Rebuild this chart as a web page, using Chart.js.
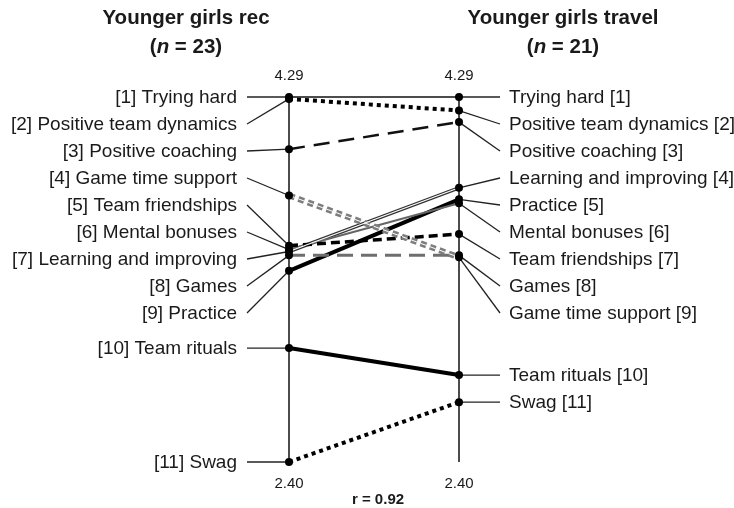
<!DOCTYPE html>
<html>
<head>
<meta charset="utf-8">
<script src="https://cdn.jsdelivr.net/npm/chart.js@4.4.0/dist/chart.umd.min.js"></script>
<style>
  html, body { margin: 0; padding: 0; background: #fff; }
  canvas { display: block; }
</style>
</head>
<body>
<canvas id="grafico" width="734" height="508"></canvas>
<script>
// Itens, na ordem do grupo rec
const itens = ['Trying hard', 'Positive team dynamics', 'Positive coaching', 'Game time support',
  'Team friendships', 'Mental bonuses', 'Learning and improving', 'Games', 'Practice',
  'Team rituals', 'Swag'];
const mediasRec = [4.29, 4.28, 4.02, 3.78, 3.52, 3.50, 3.49, 3.47, 3.39, 2.99, 2.40];
const mediasTravel = [4.29, 4.22, 4.16, 3.46, 3.58, 3.74, 3.82, 3.47, 3.76, 2.85, 2.71];
const grupos = ['Younger girls rec', 'Younger girls travel'];
const tamanhos = [23, 21];
const limitesEixo = [2.40, 4.29];
const correlacao = 0.92;

// Estilo de cada linha
const estilos = {
  'Trying hard': { cor: '#111', largura: 1.5 },
  'Positive team dynamics': { cor: '#000', largura: 4, traco: [4, 4] },
  'Positive coaching': { cor: '#111', largura: 2.5, traco: [16, 9] },
  'Game time support': { cor: '#7d7d7d', largura: 6, traco: [6, 4], interno: 1 },
  'Team friendships': { cor: '#000', largura: 3.5, traco: [9, 5] },
  'Mental bonuses': { cor: '#666', largura: 2 },
  'Learning and improving': { cor: '#333', largura: 3.5, interno: 1.2 },
  'Games': { cor: '#6e6e6e', largura: 3, traco: [16, 8] },
  'Practice': { cor: '#000', largura: 4 },
  'Team rituals': { cor: '#000', largura: 4 },
  'Swag': { cor: '#000', largura: 4, traco: [4, 4] }
};

const FONTE = '"Liberation Sans", Arial, sans-serif';
const COR_TEXTO = '#1a1a1a';

const datasets = [];

// Eixos verticais
[0, 1].forEach(x => {
  datasets.push({
    data: [{ x: x, y: limitesEixo[0] }, { x: x, y: limitesEixo[1] }],
    borderColor: '#111', borderWidth: 1.5, pointRadius: 0, clip: false, order: 5
  });
});

// Linhas dos itens
itens.forEach((item, i) => {
  const e = estilos[item];
  const dados = [{ x: 0, y: mediasRec[i] }, { x: 1, y: mediasTravel[i] }];
  datasets.push({
    data: dados, borderColor: e.cor, borderWidth: e.largura, borderDash: e.traco || [],
    pointRadius: 0, clip: false, order: 3
  });
  if (e.interno) {
    datasets.push({
      data: dados, borderColor: '#fff', borderWidth: e.interno, borderDash: e.traco || [],
      pointRadius: 0, clip: false, order: 2
    });
  }
});

// Pontos
datasets.push({
  data: itens.flatMap((_, i) => [{ x: 0, y: mediasRec[i] }, { x: 1, y: mediasTravel[i] }]),
  showLine: false, pointRadius: 4, pointBackgroundColor: '#000', pointBorderWidth: 0,
  clip: false, order: 1
});

function ordenar(medias) {
  return medias.map((v, i) => i).sort((a, b) => medias[b] - medias[a]);
}

// Texto com partes em estilos diferentes, centrado em x
function textoMisto(ctx, partes, cx, cy) {
  let total = 0;
  partes.forEach(p => { ctx.font = p.fonte; total += ctx.measureText(p.t).width; });
  let x = cx - total / 2;
  ctx.textAlign = 'left';
  partes.forEach(p => {
    ctx.font = p.fonte;
    ctx.fillText(p.t, x, cy);
    x += ctx.measureText(p.t).width;
  });
}

const rotulos = {
  id: 'rotulos',
  beforeDatasetsDraw(chart) {
    const { ctx, chartArea, scales: { x, y } } = chart;
    const passo = 27;
    const xEsq = x.getPixelForValue(0);
    const xDir = x.getPixelForValue(1);
    ctx.save();
    ctx.font = '19px ' + FONTE;
    ctx.textBaseline = 'middle';
    ctx.strokeStyle = '#222';
    ctx.lineWidth = 1.3;
    ctx.fillStyle = COR_TEXTO;

    ordenar(mediasRec).forEach((idx, pos) => {
      const py = y.getPixelForValue(mediasRec[idx]);
      const ly = pos < 9 ? chartArea.top + pos * passo : py;
      ctx.beginPath();
      ctx.moveTo(xEsq - 42, ly);
      ctx.lineTo(xEsq, py);
      ctx.stroke();
      ctx.textAlign = 'right';
      ctx.fillText('[' + (pos + 1) + '] ' + itens[idx], xEsq - 52, ly + 1);
    });

    ordenar(mediasTravel).forEach((idx, pos) => {
      const py = y.getPixelForValue(mediasTravel[idx]);
      const ly = pos < 9 ? chartArea.top + pos * passo : py;
      ctx.beginPath();
      ctx.moveTo(xDir, py);
      ctx.lineTo(xDir + 41, ly);
      ctx.stroke();
      ctx.textAlign = 'left';
      ctx.fillText(itens[idx] + ' [' + (pos + 1) + ']', xDir + 50, ly + 1);
    });
    ctx.restore();
  },
  afterDraw(chart) {
    const { ctx, scales: { x, y } } = chart;
    ctx.save();
    ctx.fillStyle = COR_TEXTO;
    ctx.textBaseline = 'middle';

    // Titulos dos grupos
    [0, 1].forEach(g => {
      const cx = x.getPixelForValue(g) + (g === 0 ? -103 : 104);
      ctx.font = 'bold 20.5px ' + FONTE;
      ctx.textAlign = 'center';
      ctx.fillText(grupos[g], cx, 18);
      textoMisto(ctx, [
        { t: '(', fonte: 'bold 20.5px ' + FONTE },
        { t: 'n', fonte: 'italic bold 20.5px ' + FONTE },
        { t: ' = ' + tamanhos[g] + ')', fonte: 'bold 20.5px ' + FONTE }
      ], cx, 47);
    });

    // Valores extremos dos eixos
    ctx.font = '15px ' + FONTE;
    ctx.textAlign = 'center';
    [0, 1].forEach(g => {
      const ax = x.getPixelForValue(g);
      ctx.fillText(limitesEixo[1].toFixed(2), ax, y.getPixelForValue(limitesEixo[1]) - 21);
      ctx.fillText(limitesEixo[0].toFixed(2), ax, y.getPixelForValue(limitesEixo[0]) + 22);
    });

    // Correlacao
    ctx.font = 'bold 15px ' + FONTE;
    ctx.fillText('r = ' + correlacao.toFixed(2), (x.getPixelForValue(0) + x.getPixelForValue(1)) / 2 + 4, 500);
    ctx.restore();
  }
};

new Chart(document.getElementById('grafico').getContext('2d'), {
  type: 'line',
  data: { datasets: datasets },
  options: {
    responsive: false,
    animation: false,
    devicePixelRatio: 1,
    layout: { padding: { left: 289, right: 275, top: 97, bottom: 46 } },
    plugins: { legend: { display: false }, tooltip: { enabled: false } },
    elements: { line: { tension: 0, borderCapStyle: 'butt' } },
    scales: {
      x: { type: 'linear', min: 0, max: 1, display: false },
      y: { type: 'linear', min: limitesEixo[0], max: limitesEixo[1], display: false }
    }
  },
  plugins: [rotulos]
});
</script>
</body>
</html>
